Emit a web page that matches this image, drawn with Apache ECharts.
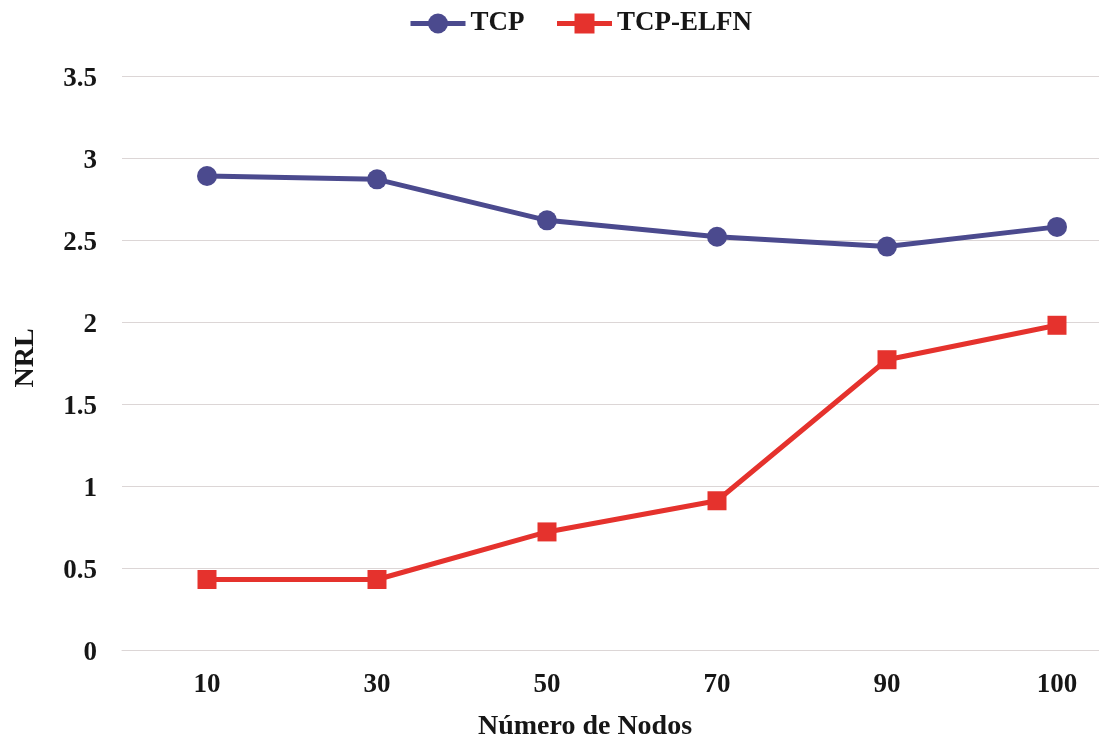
<!DOCTYPE html>
<html>
<head>
<meta charset="utf-8">
<script src="https://cdn.jsdelivr.net/npm/echarts@6/dist/echarts.min.js"></script>
<style>
  html, body { margin: 0; padding: 0; background: #ffffff; }
  #chart { width: 1099px; height: 738px; }
</style>
</head>
<body>
<div id="chart"></div>
<script>
// Node counts on the x axis
const nodeCounts = ['10', '30', '50', '70', '90', '100'];
// Normalized routing load per protocol
const tcpValues = [2.89, 2.87, 2.62, 2.52, 2.46, 2.58];
const tcpElfnValues = [0.43, 0.43, 0.72, 0.91, 1.77, 1.98];
// Y axis range
const yMin = 0, yMax = 3.5, yStep = 0.5;

const FONT = '"Liberation Serif", "Times New Roman", serif';
const TEXT = '#161616';
const GRID = '#dcd6d6';

const chart = echarts.init(document.getElementById('chart'), null, { renderer: 'canvas' });

chart.setOption({
  backgroundColor: '#ffffff',
  animation: false,
  legend: {
    left: 403,
    top: 5,
    itemWidth: 55,
    itemHeight: 25,
    itemGap: 30,
    lineStyle: { width: 5 },
    textStyle: { fontFamily: FONT, fontWeight: 'bold', fontSize: 27, color: TEXT },
    data: ['TCP', 'TCP-ELFN']
  },
  grid: {
    left: 122,
    right: -43,
    top: 76,
    bottom: 88,
    containLabel: false,
    outerBoundsMode: 'none'
  },
  xAxis: {
    type: 'category',
    data: nodeCounts,
    boundaryGap: true,
    name: 'Número de Nodos',
    nameLocation: 'middle',
    nameGap: 63,
    nameTextStyle: {
      fontFamily: FONT, fontWeight: 'bold', fontSize: 28, color: TEXT,
      padding: [0, 94, 0, 0]
    },
    axisLine: { show: true, lineStyle: { color: GRID, width: 1 } },
    axisTick: { show: false },
    axisLabel: { margin: 22, fontFamily: FONT, fontWeight: 'bold', fontSize: 27, color: TEXT },
    splitLine: { show: false }
  },
  yAxis: {
    type: 'value',
    min: yMin,
    max: yMax,
    interval: yStep,
    name: 'NRL',
    nameLocation: 'middle',
    nameGap: 82,
    nameTextStyle: {
      fontFamily: FONT, fontWeight: 'bold', fontSize: 28, color: TEXT,
      padding: [0, 0, 0, 10]
    },
    axisLine: { show: false },
    axisTick: { show: false },
    axisLabel: {
      margin: 25, fontFamily: FONT, fontWeight: 'bold', fontSize: 27, color: TEXT,
      verticalAlign: 'top', lineHeight: 7
    },
    splitLine: { show: true, lineStyle: { color: GRID, width: 1 } }
  },
  series: [
    {
      name: 'TCP',
      type: 'line',
      data: tcpValues,
      symbol: 'circle',
      symbolSize: 20,
      lineStyle: { color: '#4b4a8e', width: 5 },
      itemStyle: { color: '#4b4a8e' }
    },
    {
      name: 'TCP-ELFN',
      type: 'line',
      data: tcpElfnValues,
      symbol: 'rect',
      symbolSize: 19,
      lineStyle: { color: '#e5322d', width: 5 },
      itemStyle: { color: '#e5322d' }
    }
  ]
});
</script>
</body>
</html>
